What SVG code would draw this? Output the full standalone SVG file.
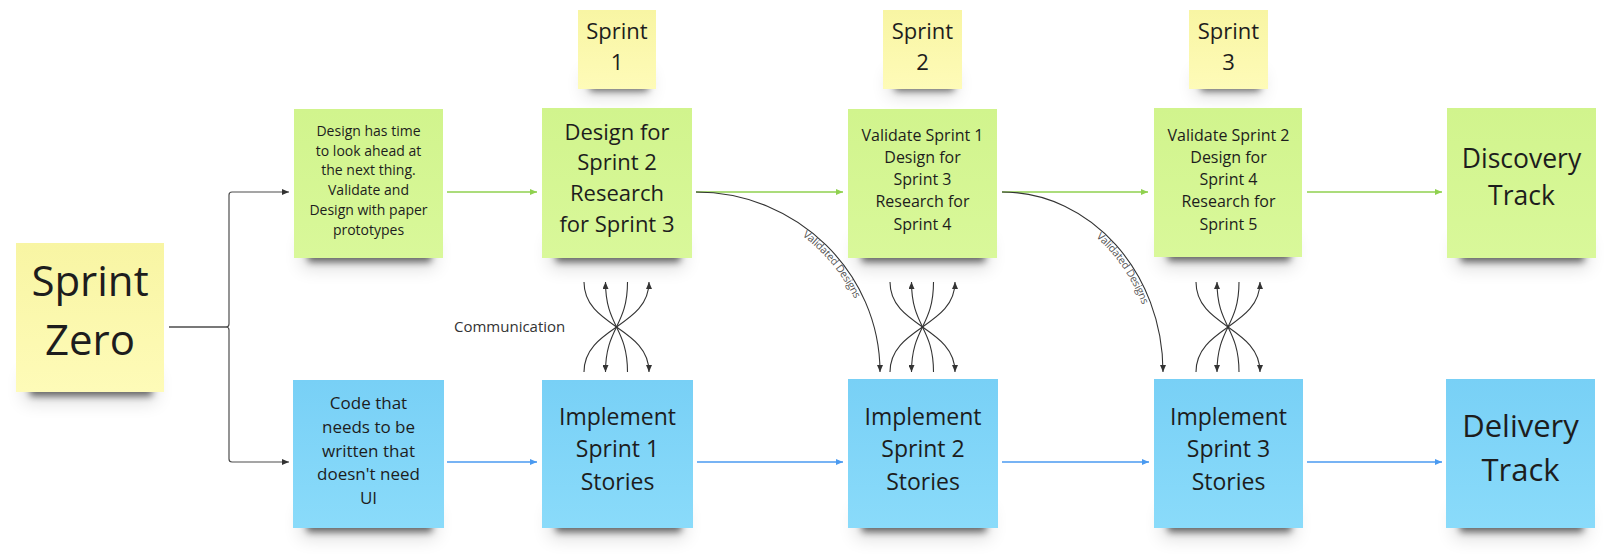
<svg xmlns="http://www.w3.org/2000/svg" width="1606" height="554" viewBox="0 0 1606 554">
<defs>
<linearGradient id="gy" x1="0" y1="0" x2="0" y2="1"><stop offset="0" stop-color="#f8f5a3"/><stop offset="1" stop-color="#fefbb8"/></linearGradient>
<linearGradient id="gg" x1="0" y1="0" x2="0" y2="1"><stop offset="0" stop-color="#d1f48d"/><stop offset="1" stop-color="#d9f89a"/></linearGradient>
<linearGradient id="gb" x1="0" y1="0" x2="0" y2="1"><stop offset="0" stop-color="#78d0f6"/><stop offset="1" stop-color="#8adbfa"/></linearGradient>
<filter id="b1" x="-20%" y="-100%" width="140%" height="300%"><feGaussianBlur stdDeviation="3.5"/></filter>
<filter id="b2" x="-30%" y="-100%" width="160%" height="300%"><feGaussianBlur stdDeviation="9"/></filter>
<marker id="ad" viewBox="0 0 7 6" refX="7" refY="3" markerWidth="7" markerHeight="6" orient="auto" markerUnits="userSpaceOnUse"><path d="M0,0 L7,3 L0,6 z" fill="#333"/></marker>
<marker id="ag" viewBox="0 0 7 6" refX="7" refY="3" markerWidth="7" markerHeight="6" orient="auto" markerUnits="userSpaceOnUse"><path d="M0,0 L7,3 L0,6 z" fill="#8fd14f"/></marker>
<marker id="ab" viewBox="0 0 7 6" refX="7" refY="3" markerWidth="7" markerHeight="6" orient="auto" markerUnits="userSpaceOnUse"><path d="M0,0 L7,3 L0,6 z" fill="#4a9af0"/></marker>
<path id="vd1" d="M696,192 C797,192 880,273 880,372"/>
<path id="vd2" d="M1002,192 C1091,192 1163,273 1163,372"/>
</defs>
<style>
.sh1{fill:#000;opacity:.55;filter:url(#b1)}
.sh2{fill:#000;opacity:.14;filter:url(#b2)}
.y{fill:url(#gy)}
.g{fill:url(#gg)}
.b{fill:url(#gb)}
text{font-family:"Open Sans","Noto Sans","DejaVu Sans",sans-serif;fill:#1d1d1d;text-anchor:middle}
.lbl{fill:#333;text-anchor:start;font-size:15px}
.vd{fill:#555;font-size:10.5px;text-anchor:middle}
.cd{fill:none;stroke:#333;stroke-width:1.1}
.gl{fill:none;stroke:#8fd14f;stroke-width:1.3}
.bl{fill:none;stroke:#4a9af0;stroke-width:1.3}
.el{fill:none;stroke:#4d4d4d;stroke-width:1.2}
</style>
<rect width="1606" height="554" fill="#fff"/>

<g id="sprint-zero">
<rect class="sh2" x="24" y="372" width="132" height="30"/>
<rect class="sh1" x="30" y="384" width="122" height="12"/>
<rect class="y" x="16" y="243" width="148" height="149"/>
<text font-size="42"><tspan x="90" y="296">Sprint</tspan><tspan x="90" y="355">Zero</tspan></text>
</g>

<g id="sprint-1">
<rect class="sh2" x="584" y="72" width="66" height="24"/>
<rect class="sh1" x="590" y="82" width="58" height="9"/>
<rect class="y" x="578" y="10" width="78" height="79"/>
<text font-size="22"><tspan x="617" y="39">Sprint</tspan><tspan x="617" y="70">1</tspan></text>
</g>
<g id="sprint-2">
<rect class="sh2" x="889" y="72" width="67" height="24"/>
<rect class="sh1" x="895" y="82" width="59" height="9"/>
<rect class="y" x="883" y="10" width="79" height="79"/>
<text font-size="22"><tspan x="922.5" y="39">Sprint</tspan><tspan x="922.5" y="70">2</tspan></text>
</g>
<g id="sprint-3">
<rect class="sh2" x="1195" y="72" width="67" height="24"/>
<rect class="sh1" x="1201" y="82" width="59" height="9"/>
<rect class="y" x="1189" y="10" width="79" height="79"/>
<text font-size="22"><tspan x="1228.5" y="39">Sprint</tspan><tspan x="1228.5" y="70">3</tspan></text>
</g>

<g id="design-look-ahead">
<rect class="sh2" x="302" y="238" width="133" height="30"/>
<rect class="sh1" x="308" y="250" width="123" height="12"/>
<rect class="g" x="294" y="109" width="149" height="149"/>
<text font-size="14"><tspan x="368.5" y="135.7">Design has time</tspan><tspan x="368.5" y="155.5">to look ahead at</tspan><tspan x="368.5" y="175.3">the next thing.</tspan><tspan x="368.5" y="195.1">Validate and</tspan><tspan x="368.5" y="214.9">Design with paper</tspan><tspan x="368.5" y="234.7">prototypes</tspan></text>
</g>
<g id="design-sprint-2">
<rect class="sh2" x="550" y="238" width="134" height="30"/>
<rect class="sh1" x="556" y="250" width="124" height="12"/>
<rect class="g" x="542" y="108" width="150" height="150"/>
<text font-size="22"><tspan x="617" y="139.5">Design for</tspan><tspan x="617" y="170.3">Sprint 2</tspan><tspan x="617" y="201.1">Research</tspan><tspan x="617" y="231.9">for Sprint 3</tspan></text>
</g>
<g id="validate-sprint-1">
<rect class="sh2" x="856" y="238" width="133" height="30"/>
<rect class="sh1" x="862" y="250" width="123" height="12"/>
<rect class="g" x="848" y="109" width="149" height="149"/>
<text font-size="16"><tspan x="922.5" y="140.8">Validate Sprint 1</tspan><tspan x="922.5" y="163">Design for</tspan><tspan x="922.5" y="185.2">Sprint 3</tspan><tspan x="922.5" y="207.4">Research for</tspan><tspan x="922.5" y="229.6">Sprint 4</tspan></text>
</g>
<g id="validate-sprint-2">
<rect class="sh2" x="1162" y="237" width="132" height="30"/>
<rect class="sh1" x="1168" y="249" width="122" height="12"/>
<rect class="g" x="1154" y="108" width="148" height="149"/>
<text font-size="16"><tspan x="1228.5" y="140.8">Validate Sprint 2</tspan><tspan x="1228.5" y="163">Design for</tspan><tspan x="1228.5" y="185.2">Sprint 4</tspan><tspan x="1228.5" y="207.4">Research for</tspan><tspan x="1228.5" y="229.6">Sprint 5</tspan></text>
</g>
<g id="discovery-track">
<rect class="sh2" x="1455" y="238" width="133" height="30"/>
<rect class="sh1" x="1461" y="250" width="123" height="12"/>
<rect class="g" x="1447" y="108" width="149" height="150"/>
<text font-size="26.5"><tspan x="1521.5" y="168">Discovery</tspan><tspan x="1521.5" y="205">Track</tspan></text>
</g>

<g id="code-no-ui">
<rect class="sh2" x="301" y="508" width="135" height="30"/>
<rect class="sh1" x="307" y="520" width="125" height="12"/>
<rect class="b" x="293" y="380" width="151" height="148"/>
<text font-size="17"><tspan x="368.5" y="409.3">Code that</tspan><tspan x="368.5" y="433">needs to be</tspan><tspan x="368.5" y="456.7">written that</tspan><tspan x="368.5" y="480.4">doesn't need</tspan><tspan x="368.5" y="504.1">UI</tspan></text>
</g>
<g id="implement-sprint-1">
<rect class="sh2" x="550" y="508" width="135" height="30"/>
<rect class="sh1" x="556" y="520" width="125" height="12"/>
<rect class="b" x="542" y="380" width="151" height="148"/>
<text font-size="23"><tspan x="617.5" y="425">Implement</tspan><tspan x="617.5" y="457.4">Sprint 1</tspan><tspan x="617.5" y="489.8">Stories</tspan></text>
</g>
<g id="implement-sprint-2">
<rect class="sh2" x="856" y="508" width="134" height="30"/>
<rect class="sh1" x="862" y="520" width="124" height="12"/>
<rect class="b" x="848" y="379" width="150" height="149"/>
<text font-size="23"><tspan x="923" y="425">Implement</tspan><tspan x="923" y="457.4">Sprint 2</tspan><tspan x="923" y="489.8">Stories</tspan></text>
</g>
<g id="implement-sprint-3">
<rect class="sh2" x="1162" y="508" width="133" height="30"/>
<rect class="sh1" x="1168" y="520" width="123" height="12"/>
<rect class="b" x="1154" y="379" width="149" height="149"/>
<text font-size="23"><tspan x="1228.5" y="425">Implement</tspan><tspan x="1228.5" y="457.4">Sprint 3</tspan><tspan x="1228.5" y="489.8">Stories</tspan></text>
</g>
<g id="delivery-track">
<rect class="sh2" x="1454" y="508" width="133" height="30"/>
<rect class="sh1" x="1460" y="520" width="123" height="12"/>
<rect class="b" x="1446" y="379" width="149" height="149"/>
<text font-size="31"><tspan x="1520.5" y="436.7">Delivery</tspan><tspan x="1520.5" y="480.5">Track</tspan></text>
</g>

<g id="connectors">
<path class="el" d="M169,327 H226 Q229,327 229,324 V195 Q229,192 232,192 H289" marker-end="url(#ad)"/>
<path class="el" d="M169,327 H226 Q229,327 229,330 V459 Q229,462 232,462 H289" marker-end="url(#ad)"/>

<path class="gl" d="M447,192 H537" marker-end="url(#ag)"/>
<path class="gl" d="M696,192 H843" marker-end="url(#ag)"/>
<path class="gl" d="M1002,192 H1148" marker-end="url(#ag)"/>
<path class="gl" d="M1307,192 H1442" marker-end="url(#ag)"/>

<path class="bl" d="M447,462 H537" marker-end="url(#ab)"/>
<path class="bl" d="M697,462 H843" marker-end="url(#ab)"/>
<path class="bl" d="M1002,462 H1149" marker-end="url(#ab)"/>
<path class="bl" d="M1307,462 H1442" marker-end="url(#ab)"/>

<use href="#vd1" class="cd" marker-end="url(#ad)"/>
<use href="#vd2" class="cd" marker-end="url(#ad)"/>
<text class="vd" dy="8.5"><textPath href="#vd1" startOffset="57%">Validated Designs</textPath></text>
<text class="vd" dy="8.5"><textPath href="#vd2" startOffset="57%">Validated Designs</textPath></text>

<path class="cd" d="M584,282 C584,327 649,327 649,372" marker-end="url(#ad)"/>
<path class="cd" d="M584,372 C584,327 649,327 649,282" marker-end="url(#ad)"/>
<path class="cd" d="M627.5,282 C627.5,327 605.5,327 605.5,372" marker-end="url(#ad)"/>
<path class="cd" d="M627.5,372 C627.5,327 605.5,327 605.5,282" marker-end="url(#ad)"/>

<path class="cd" d="M890,282 C890,327 955,327 955,372" marker-end="url(#ad)"/>
<path class="cd" d="M890,372 C890,327 955,327 955,282" marker-end="url(#ad)"/>
<path class="cd" d="M933.5,282 C933.5,327 911.5,327 911.5,372" marker-end="url(#ad)"/>
<path class="cd" d="M933.5,372 C933.5,327 911.5,327 911.5,282" marker-end="url(#ad)"/>

<path class="cd" d="M1196,282 C1196,327 1260,327 1260,372" marker-end="url(#ad)"/>
<path class="cd" d="M1196,372 C1196,327 1260,327 1260,282" marker-end="url(#ad)"/>
<path class="cd" d="M1239,282 C1239,327 1217,327 1217,372" marker-end="url(#ad)"/>
<path class="cd" d="M1239,372 C1239,327 1217,327 1217,282" marker-end="url(#ad)"/>

<text class="lbl" x="454" y="332">Communication</text>
</g>
</svg>
